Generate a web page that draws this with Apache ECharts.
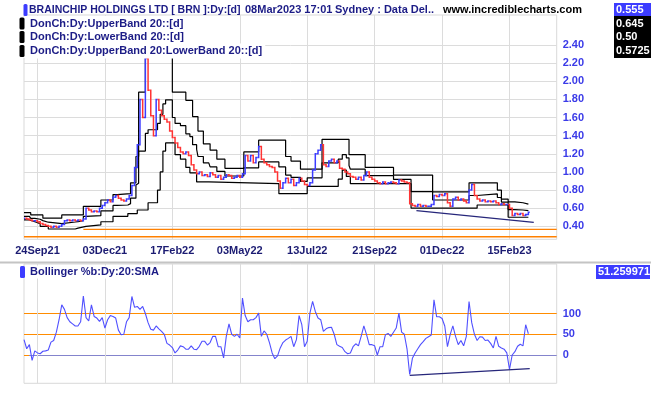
<!DOCTYPE html>
<html><head><meta charset="utf-8">
<script src="https://cdn.jsdelivr.net/npm/echarts@6/dist/echarts.min.js"></script>
<style>html,body{margin:0;padding:0;background:#fff}#c{width:651px;height:395px}</style>
</head><body><div id="c"></div>
<script>
// ---- data ----
const tickIdx = [10, 60, 110, 160, 210, 260, 310, 360];
const tickLabels = ['24Sep21', '03Dec21', '17Feb22', '03May22', '13Jul22', '21Sep22', '01Dec22', '15Feb23'];
const priceLevels = [0.4, 0.6, 0.8, 1.0, 1.2, 1.4, 1.6, 1.8, 2.0, 2.2, 2.4];
const pctLevels = [0, 50, 100];
const priceStep = 2; // trading days between samples

const closes = [
  0.49,0.48,0.47,0.46,0.46,0.45,0.43,0.42,0.41,0.40,
  0.39,0.40,0.39,0.40,0.42,0.46,0.47,0.46,0.47,0.46,
  0.47,0.46,0.48,0.60,0.58,0.56,0.57,0.56,0.60,0.63,
  0.66,0.69,0.67,0.72,0.74,0.71,0.69,0.68,0.70,0.74,
  0.85,1.05,1.30,1.80,1.60,2.25,1.90,1.62,1.40,1.80,
  1.68,1.62,1.58,1.55,1.45,1.38,1.32,1.27,1.22,1.20,
  1.22,1.18,1.08,1.02,0.98,1.00,0.96,0.97,0.95,0.99,
  0.97,0.94,0.96,0.92,0.94,0.97,0.96,0.93,0.94,0.96,
  0.94,0.98,1.18,1.12,1.18,1.10,1.16,1.28,1.14,1.10,
  1.08,1.06,1.05,1.00,0.90,0.82,0.88,0.93,0.88,0.92,
  0.85,0.88,0.93,0.90,0.86,0.85,0.88,1.02,1.20,1.24,
  1.30,1.08,1.06,1.12,1.14,1.10,1.12,1.04,1.03,1.00,
  0.98,0.95,0.94,0.92,0.94,0.91,0.96,1.00,0.94,0.92,
  0.90,0.88,0.87,0.89,0.87,0.88,0.89,0.88,0.87,0.91,
  0.90,0.89,0.88,0.65,0.63,0.62,0.64,0.62,0.63,0.62,
  0.62,0.64,0.74,0.73,0.75,0.74,0.76,0.66,0.62,0.70,
  0.72,0.69,0.70,0.68,0.66,0.80,0.86,0.74,0.70,0.68,
  0.69,0.67,0.68,0.67,0.68,0.66,0.64,0.65,0.64,0.64,
  0.60,0.52,0.54,0.53,0.54,0.52,0.53,0.555
];

const upperBand = [[0,0.55],[5,0.525],[14,0.49],[28,0.525],[44,0.62],[57,0.69],[66,0.75],[69,0.76],[79,0.88],[83,1.17],[85,1.88],[90,2.27],[110,1.88],[120,1.79],[125,1.61],[129,1.45],[133,1.31],[138,1.24],[143,1.14],[149,1.04],[163,1.22],[174,1.35],[194,1.17],[198,1.12],[205,1.03],[221,1.36],[241,1.19],[253,1.05],[274,0.965],[303,0.78],[330,0.88],[351,0.80],[354,0.70],[359,0.67],[364,0.66],[370,0.645],[374,0.645]];

const lowerBand = [[0,0.47],[4,0.45],[8,0.43],[12,0.40],[18,0.37],[38,0.38],[40,0.40],[46,0.415],[57,0.45],[66,0.51],[77,0.54],[84,0.58],[92,0.66],[99,0.80],[101,1.0],[103,1.23],[105,1.32],[112,1.19],[116,1.14],[120,1.05],[123,0.99],[128,0.89],[137,0.87],[189,0.76],[210,0.84],[233,0.92],[236,1.02],[239,0.95],[242,0.87],[287,0.60],[336,0.635],[359,0.50],[374,0.50]];

const midBand = [[0,0.51],[4,0.50],[5,0.4875],[8,0.4775],[12,0.4625],[14,0.445],[18,0.43],[28,0.4475],[38,0.4525],[40,0.4625],[44,0.51],[46,0.5175],[57,0.57],[66,0.63],[69,0.635],[77,0.65],[79,0.71],[83,0.855],[84,0.875],[85,1.23],[90,1.425],[92,1.465],[99,1.535],[101,1.635],[103,1.75],[105,1.795],[110,1.60],[112,1.535],[116,1.51],[120,1.42],[123,1.39],[125,1.30],[128,1.25],[129,1.17],[133,1.10],[137,1.09],[138,1.055],[143,1.005],[149,0.955],[163,1.045],[174,1.11],[189,1.055],[194,0.965],[198,0.94],[205,0.895],[210,0.935],[221,1.10],[233,1.14],[236,1.19],[239,1.155],[241,1.07],[242,1.03],[253,0.96],[274,0.9175],[287,0.7825],[303,0.69],[330,0.74],[336,0.7575],[351,0.7175],[354,0.6675],[359,0.585],[364,0.58],[370,0.5725],[374,0.5725]];

const stopLineHigh = [[44,0.367],[395,0.367]];
const stopLineLow = [[0,0.285],[395,0.285]];
const priceTrend = [[291,0.572],[378,0.444]];

const pctB = [
  37,15,25,-13,10,5,3,9,10,12,
  31,35,55,85,121,110,90,80,75,70,
  70,80,142,90,82,121,93,89,81,90,
  65,85,95,93,89,60,49,50,80,90,
  141,115,117,110,117,100,78,62,60,70,
  63,57,50,28,24,18,5,12,22,20,
  14,14,22,14,13,21,33,33,24,30,
  45,45,20,20,-7,45,75,50,45,50,
  41,137,95,80,85,85,90,101,45,58,
  50,30,5,-9,-2,17,30,36,40,45,
  20,37,95,73,20,33,101,129,105,89,
  85,57,63,66,67,50,25,21,18,8,
  3,5,20,27,22,45,70,49,25,25,
  22,0,20,20,49,52,45,55,65,101,
  55,50,15,-47,-8,5,15,25,32,40,
  44,48,133,92,92,88,70,20,49,70,
  45,25,35,22,45,129,78,50,35,44,
  43,35,36,28,17,45,21,17,14,5,
  -35,0,8,21,26,22,73,51.26
];
const pctTrend = [[286,-49],[375,-33]];

const headerMain = 'BRAINCHIP HOLDINGS LTD [ BRN ]:Dy:[d]';
const headerTime = '08Mar2023 17:01';
const headerSrc = 'Sydney : Data Del..';
const siteName = 'www.incrediblecharts.com';
const legendRows = ['DonCh:Dy:UpperBand 20::[d]', 'DonCh:Dy:LowerBand 20::[d]', 'DonCh:Dy:UpperBand 20:LowerBand 20::[d]'];
const lastValues = ['0.555', '0.645', '0.50', '0.5725'];
const pctTitle = 'Bollinger %b:Dy:20:SMA';
const pctLast = '51.259971';

// ---- chart ----
const BLUE = '#3c3cff', RED = '#ff3434', NAVY = '#1c1c86';
const FF = '"Liberation Sans", Arial, sans-serif';
const FONT = 'bold 11px ' + FF;
const X_MIN = 0, X_MAX = 395;
const labelOf = {};
tickIdx.forEach((t, i) => { labelOf[t] = tickLabels[i]; });

const priceData = closes.map((c, k) => [k * priceStep, k > 0 ? closes[k - 1] : c, c]);
const pctData = pctB.map((v, k) => [k * priceStep, v]);

function renderBar(params, api) {
  const x = api.value(0), o = api.value(1), c = api.value(2);
  const a = api.coord([x, o]), b = api.coord([x, c]);
  const h = api.size([1, 0])[0];
  return {
    type: 'polyline',
    shape: { points: [[a[0] - h, a[1]], [a[0], a[1]], [b[0], b[1]], [b[0] + h, b[1]]] },
    style: { stroke: c >= o ? BLUE : RED, fill: null, lineWidth: 1.5 }
  };
}

const chart = echarts.init(document.getElementById('c'));
const gridLine = { color: '#dcdcdc', width: 1 };
const lineBase = { type: 'line', symbol: 'none', silent: true };

const graphics = [
  { type: 'rect', shape: { x: 0, y: 261.5, width: 651, height: 2 }, style: { fill: '#c4c4c4' } },
  { type: 'rect', shape: { x: 23.5, y: 4, width: 4, height: 12, r: 1.5 }, style: { fill: BLUE } },
  { type: 'text', x: 29, y: 10, style: { text: headerMain, font: 'bold 10.5px ' + FF, fill: NAVY, verticalAlign: 'middle' } },
  { type: 'text', x: 245, y: 10, style: { text: headerTime, font: FONT, fill: NAVY, verticalAlign: 'middle' } },
  { type: 'text', x: 335, y: 10, style: { text: headerSrc, font: FONT, fill: NAVY, verticalAlign: 'middle' } },
  { type: 'text', x: 443, y: 10, style: { text: siteName, font: FONT, fill: '#000', verticalAlign: 'middle' } },
  { type: 'rect', shape: { x: 614, y: 3, width: 37, height: 13 }, style: { fill: BLUE } },
  { type: 'rect', shape: { x: 614, y: 16, width: 37, height: 42 }, style: { fill: '#000' } },
  { type: 'rect', shape: { x: 596, y: 265, width: 54, height: 14 }, style: { fill: BLUE } },
  { type: 'text', x: 598, y: 272, style: { text: pctLast, font: FONT, fill: '#fff', verticalAlign: 'middle' } },
  { type: 'rect', shape: { x: 20, y: 266, width: 5, height: 12, r: 1.5 }, style: { fill: BLUE } },
  { type: 'text', x: 29, y: 272, style: { text: pctTitle, font: FONT, fill: NAVY, verticalAlign: 'middle', backgroundColor: '#fff', padding: [1, 3, 1, 1] } }
];
const rowY = [10, 23.5, 37, 51];
lastValues.forEach((t, i) => {
  graphics.push({ type: 'text', x: 616, y: rowY[i], style: { text: t, font: FONT, fill: '#fff', verticalAlign: 'middle' } });
});
legendRows.forEach((t, i) => {
  const y = rowY[i + 1];
  graphics.push({ type: 'rect', shape: { x: 17, y: y - 7, width: 12, height: 14 }, style: { fill: '#fff' } });
  graphics.push({ type: 'rect', shape: { x: 19.5, y: y - 6, width: 5, height: 12, r: 1.5 }, style: { fill: '#000' } });
  graphics.push({ type: 'text', x: 29, y: y, style: { text: t, font: FONT, fill: NAVY, verticalAlign: 'middle', backgroundColor: '#fff', padding: [2, 3, 2, 1] } });
});
graphics.forEach(g => { g.z = 100; g.silent = true; });

chart.setOption({
  animation: false,
  backgroundColor: '#fff',
  grid: [
    { left: 24, right: 94.3, top: 15, height: 224.3, show: true, borderColor: '#d9d9d9', borderWidth: 1 },
    { left: 24, right: 94.3, top: 264, height: 119.3, show: true, borderColor: '#d9d9d9', borderWidth: 1 }
  ],
  xAxis: [
    { type: 'value', gridIndex: 0, min: X_MIN, max: X_MAX, axisLine: { show: false },
      axisTick: { show: false, customValues: tickIdx },
      axisLabel: { customValues: tickIdx, formatter: v => labelOf[v] || '', color: '#1b1b72', fontWeight: 'bold', fontSize: 11, fontFamily: FF, margin: 6 },
      splitLine: { show: true, lineStyle: gridLine } },
    { type: 'value', gridIndex: 1, min: X_MIN, max: X_MAX, axisLine: { show: false },
      axisTick: { show: true, customValues: tickIdx, length: 12, lineStyle: gridLine },
      axisLabel: { show: false },
      splitLine: { show: true, lineStyle: gridLine } }
  ],
  yAxis: [
    { type: 'value', gridIndex: 0, position: 'right', min: 0.2566, max: 2.731, axisLine: { show: false },
      axisTick: { show: true, customValues: priceLevels, length: 5, lineStyle: gridLine },
      axisLabel: { customValues: priceLevels, formatter: v => v.toFixed(2), color: '#3b3be8', fontWeight: 'bold', fontSize: 11, fontFamily: FF, margin: 6 },
      splitLine: { show: true, lineStyle: gridLine } },
    { type: 'value', gridIndex: 1, position: 'right', min: -68.2, max: 219.3, axisLine: { show: false },
      axisTick: { show: true, customValues: pctLevels, length: 5, lineStyle: { color: '#ff8c00' } },
      axisLabel: { customValues: pctLevels, color: '#3b3be8', fontWeight: 'bold', fontSize: 11, fontFamily: FF, margin: 6 },
      splitLine: { show: true, lineStyle: { color: ['#8484cc', '#ff8c00', '#ff8c00'], width: 1.2 } } }
  ],
  graphic: graphics,
  series: [
    Object.assign({}, lineBase, { data: stopLineLow, lineStyle: { color: '#ff8000', width: 1.3 }, z: 2 }),
    Object.assign({}, lineBase, { data: stopLineHigh, lineStyle: { color: '#ff8000', width: 1.3 }, z: 2 }),
    Object.assign({}, lineBase, { data: upperBand, step: 'end', lineStyle: { color: '#000', width: 1.2 }, z: 3 }),
    Object.assign({}, lineBase, { data: lowerBand, step: 'end', lineStyle: { color: '#000', width: 1.2 }, z: 3 }),
    Object.assign({}, lineBase, { data: midBand, step: 'end', lineStyle: { color: '#000', width: 1.2 }, z: 3 }),
    { type: 'custom', silent: true, renderItem: renderBar, data: priceData, encode: { x: 0, y: [1, 2] }, clip: true, z: 5 },
    Object.assign({}, lineBase, { data: priceTrend, lineStyle: { color: '#26267a', width: 1.3 }, z: 6 }),
    Object.assign({}, lineBase, { xAxisIndex: 1, yAxisIndex: 1, data: pctData, lineStyle: { color: '#5050ff', width: 1.1 }, z: 5 }),
    Object.assign({}, lineBase, { xAxisIndex: 1, yAxisIndex: 1, data: pctTrend, lineStyle: { color: '#26267a', width: 1.3 }, z: 6 })
  ]
});
</script></body></html>
